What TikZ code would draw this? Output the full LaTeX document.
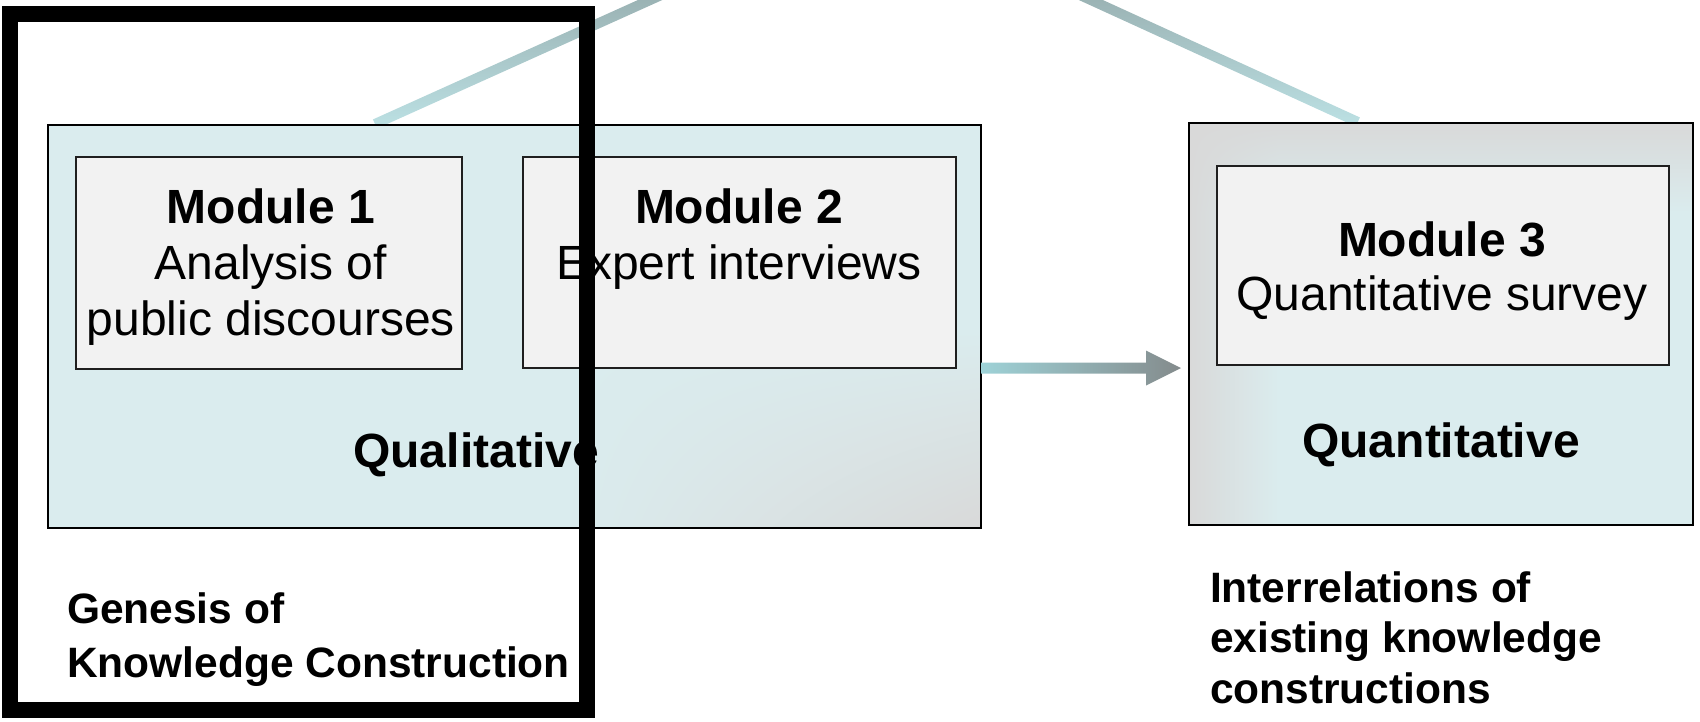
\documentclass[tikz,border=0pt]{standalone}
\usepackage{fontspec}
\setmainfont{Liberation Sans}
\usetikzlibrary{calc,shadings}
\definecolor{tealbg}{RGB}{218,236,238}
\definecolor{greybg}{RGB}{217,217,217}
\definecolor{modfill}{RGB}{242,242,242}
\definecolor{linetop}{RGB}{128,142,142}
\definecolor{linebot}{RGB}{188,225,228}
\definecolor{arrowL}{RGB}{158,210,215}
\definecolor{arrowR}{RGB}{132,139,140}
\newcommand\myfirststrut{\rule{0pt}{40pt}}
\newcommand\mynotestrut{\rule{0pt}{34pt}}
\pgfdeclarelayer{bglayer}
\pgfsetlayers{bglayer,main}
\begin{document}
\begin{tikzpicture}[x=1pt,y=-1pt,
  bigbox/.style={rectangle, inner sep=0, outer sep=0, fill=tealbg},
  boxborder/.style={draw=black, line width=1.6},
  modbox/.style={rectangle, draw=black!88, line width=1.5, fill=modfill, inner sep=0, outer sep=0},
  modtext/.style={inner sep=0, outer sep=0, align=center, anchor=north, font=\fontsize{48}{56}\selectfont},
  captext/.style={inner sep=0, outer sep=0, anchor=base, font=\fontsize{48}{56}\selectfont\bfseries},
  notetext/.style={inner sep=0, outer sep=0, align=left, anchor=north west, font=\fontsize{42.5}{54}\selectfont\bfseries},
  framebox/.style={draw=black, line width=16, inner sep=0, outer sep=0}
]
\useasboundingbox (0,0) rectangle (1700,721);
\clip (0,0) rectangle (1700,721);

% qualitative box
\node[bigbox, minimum width=933, minimum height=403] (qual) at (514.5,326.5) {};
\shade[upper left=tealbg, upper right=tealbg, lower left=tealbg, lower right=greybg]
  (560,330) rectangle (qual.south east);
\draw[boxborder] (qual.north west) rectangle (qual.south east);

% quantitative box
\node[bigbox, minimum width=504, minimum height=402] (quant) at (1441,324) {};
\coordinate (qc) at ($(quant.north west)+(90,90)$);
\shade[upper left=greybg, upper right=greybg, lower left=greybg, lower right=tealbg]
  (quant.north west) rectangle (qc);
\shade[top color=greybg, bottom color=tealbg] (quant.north west -| qc) rectangle (qc -| quant.east);
\shade[left color=greybg, right color=tealbg] (qc -| quant.west) rectangle (qc |- quant.south);
\draw[boxborder] (quant.north west) rectangle (quant.south east);

% module boxes
\node[modbox, minimum width=386, minimum height=212] (m1) at (269,263) {};
\node[modbox, minimum width=433, minimum height=211] (m2) at (739.5,262.5) {};
\node[modbox, minimum width=452, minimum height=199] (m3) at (1443,265.5) {};

% texts
\node[modtext] (m1t) at (271,183) {\myfirststrut\textbf{Module 1}\\Analysis of\\public discourses};
\node[modtext] (m2t) at (739,183) {\myfirststrut\textbf{Module 2}\\Expert interviews};
\node[modtext, font=\fontsize{48}{54}\selectfont] (m3t) at (1442,216) {\myfirststrut\textbf{Module 3}\\Quantitative survey};
\node[captext] (qualt) at (476,467) {Qualitative};
\node[captext] (quantt) at (1441,457) {Quantitative};
\node[notetext] (gen) at (67,589) {\mynotestrut Genesis of\\Knowledge Construction};
\node[notetext, font=\fontsize{42.5}{50.5}\selectfont\bfseries] (inter) at (1210,568) {\mynotestrut Interrelations of\\existing knowledge\\constructions};

% arrow from qualitative to quantitative
\coordinate (as) at (qual.east |- 0,368);
\coordinate (at) at ($(quant.west |- as)+(-8,0)$);
\shade[left color=arrowL, right color=arrowR]
  ($(as)+(0,-5.5)$) -- ($(at)+(-35,-5.5)$) -- ($(at)+(-35,-17.5)$) -- (at)
  -- ($(at)+(-35,17.5)$) -- ($(at)+(-35,5.5)$) -- ($(as)+(0,5.5)$) -- cycle;

% lines from above
\coordinate (apex) at (872,-100);
\coordinate (e1) at ($(qual.north west)!0.3537!(qual.north east)+(-3,-1)$);
\coordinate (e2) at ($(quant.north west)!0.329!(quant.north east)+(3,-1)$);
\begin{pgfonlayer}{bglayer}
\shade[top color=linetop, bottom color=linebot]
  ($(apex)!5pt!90:(e1)$) -- ($(e1)!5pt!-90:(apex)$) -- ($(e1)!5pt!90:(apex)$) -- ($(apex)!5pt!-90:(e1)$) -- cycle;
\shade[top color=linetop, bottom color=linebot]
  ($(apex)!5pt!90:(e2)$) -- ($(e2)!5pt!-90:(apex)$) -- ($(e2)!5pt!90:(apex)$) -- ($(apex)!5pt!-90:(e2)$) -- cycle;
\end{pgfonlayer}

% highlight frame
\node[framebox, minimum width=577, minimum height=696] (frame) at (298.5,362) {};
\end{tikzpicture}
\end{document}
